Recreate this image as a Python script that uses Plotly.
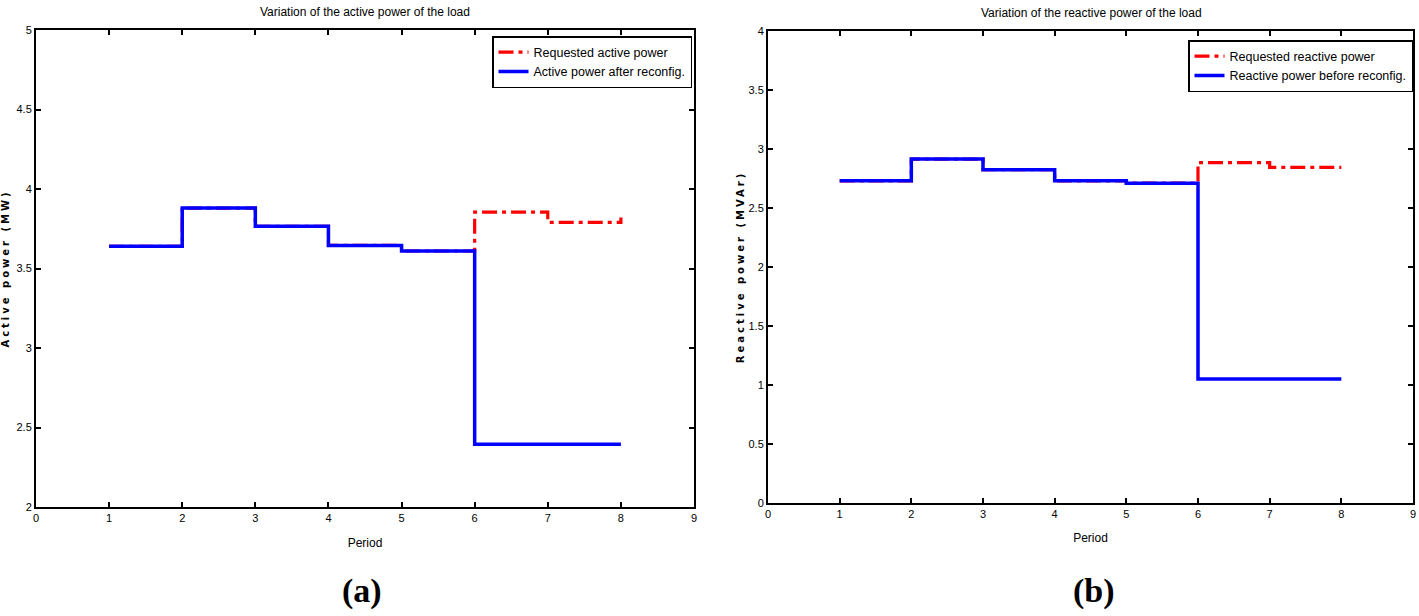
import plotly.graph_objects as go

# ---------------- data ----------------
periods = [1, 2, 3, 4, 5, 6, 7, 8]
x_ticks = [0, 1, 2, 3, 4, 5, 6, 7, 8, 9]

# (a) active power (MW)
p_requested = [3.64, 3.88, 3.765, 3.645, 3.61, 3.855, 3.79, 3.82]
p_after = [3.64, 3.88, 3.765, 3.645, 3.61, 2.395, 2.395, 2.395]
p_yticks = [2, 2.5, 3, 3.5, 4, 4.5, 5]

# (b) reactive power (MVAr)
q_requested = [2.73, 2.915, 2.825, 2.73, 2.71, 2.885, 2.845, 2.845]
q_before = [2.73, 2.915, 2.825, 2.73, 2.71, 1.05, 1.05, 1.05]
q_yticks = [0, 0.5, 1, 1.5, 2, 2.5, 3, 3.5, 4]

W, H = 1419, 616
SANS = "Liberation Sans, Arial, sans-serif"


def px(x):
    return x / W


def py(y):
    return 1 - y / H


fig = go.Figure()

red_dash = "15px,5px,4px,5px"

fig.add_trace(go.Scatter(x=periods, y=p_requested, mode="lines", line_shape="hv",
                         line=dict(color="#ff0000", width=3.2, dash=red_dash),
                         name="Requested active power", xaxis="x", yaxis="y", legend="legend"))
fig.add_trace(go.Scatter(x=periods, y=p_after, mode="lines", line_shape="hv",
                         line=dict(color="#0000ff", width=3.5),
                         name="Active power after reconfig.", xaxis="x", yaxis="y", legend="legend"))
fig.add_trace(go.Scatter(x=periods, y=q_requested, mode="lines", line_shape="hv",
                         line=dict(color="#ff0000", width=3.2, dash=red_dash),
                         name="Requested reactive power", xaxis="x2", yaxis="y2", legend="legend2"))
fig.add_trace(go.Scatter(x=periods, y=q_before, mode="lines", line_shape="hv",
                         line=dict(color="#0000ff", width=3.5),
                         name="Reactive power before reconfig.", xaxis="x2", yaxis="y2", legend="legend2"))

axis_common = dict(showline=True, linecolor="black", linewidth=2, mirror="ticks",
                   ticks="inside", ticklen=5, tickwidth=1.5, tickcolor="black",
                   showgrid=False, zeroline=False, automargin=False,
                   tickfont=dict(family=SANS, size=11, color="black"))

ytitle_font = dict(family="DejaVu Sans", size=10, color="black", weight="bold")
xtitle_font = dict(family=SANS, size=12, color="black")

fig.update_layout(
    width=W, height=H,
    margin=dict(l=0, r=0, t=0, b=0),
    paper_bgcolor="white", plot_bgcolor="white",
    showlegend=True,
    xaxis=dict(domain=[px(36), px(694)], range=[0, 9], tickvals=x_ticks, anchor="y",
               title=dict(text="Period", font=xtitle_font, standoff=15),
               **axis_common),
    yaxis=dict(domain=[py(507), py(30)], range=[2, 5], tickvals=p_yticks, anchor="x",
               title=dict(text="Active power (MW)", font=ytitle_font, standoff=10),
               **axis_common),
    xaxis2=dict(domain=[px(768), px(1413)], range=[0, 9], tickvals=x_ticks, anchor="y2",
                title=dict(text="Period", font=xtitle_font, standoff=14),
                **axis_common),
    yaxis2=dict(domain=[py(503), py(31)], range=[0, 4], tickvals=q_yticks, anchor="x2",
                title=dict(text="Reactive power (MVAr)", font=ytitle_font, standoff=2),
                **axis_common),
    legend=dict(x=px(692), y=py(36), xanchor="right", yanchor="top",
                bgcolor="white", bordercolor="black", borderwidth=1.5,
                font=dict(family=SANS, size=12.5, color="black"), tracegroupgap=2),
    legend2=dict(x=px(1413), y=py(40), xanchor="right", yanchor="top",
                 bgcolor="white", bordercolor="black", borderwidth=1.5,
                 font=dict(family=SANS, size=12.5, color="black"), tracegroupgap=2),
    annotations=[
        dict(text="Variation of the active power of the load", x=px(365), y=py(12),
             xref="paper", yref="paper", showarrow=False, xanchor="center", yanchor="middle",
             font=dict(family=SANS, size=12, color="black")),
        dict(text="Variation of the reactive power of the load", x=px(1091), y=py(13),
             xref="paper", yref="paper", showarrow=False, xanchor="center", yanchor="middle",
             font=dict(family=SANS, size=12, color="black")),
        dict(text="<b>(a)</b>", x=px(362), y=py(591), xref="paper", yref="paper",
             showarrow=False, xanchor="center", yanchor="middle",
             font=dict(family="Liberation Serif, Times New Roman, serif", size=34, color="black")),
        dict(text="<b>(b)</b>", x=px(1094), y=py(591), xref="paper", yref="paper",
             showarrow=False, xanchor="center", yanchor="middle",
             font=dict(family="Liberation Serif, Times New Roman, serif", size=34, color="black")),
    ],
)

post = """
document.body.style.margin = '0';
document.body.style.overflow = 'hidden';
document.querySelectorAll('.ytitle, .y2title').forEach(function(e){ e.style.letterSpacing = '3px'; });
"""

fig.write_html("out.html", post_script=post, config={"displayModeBar": False})
